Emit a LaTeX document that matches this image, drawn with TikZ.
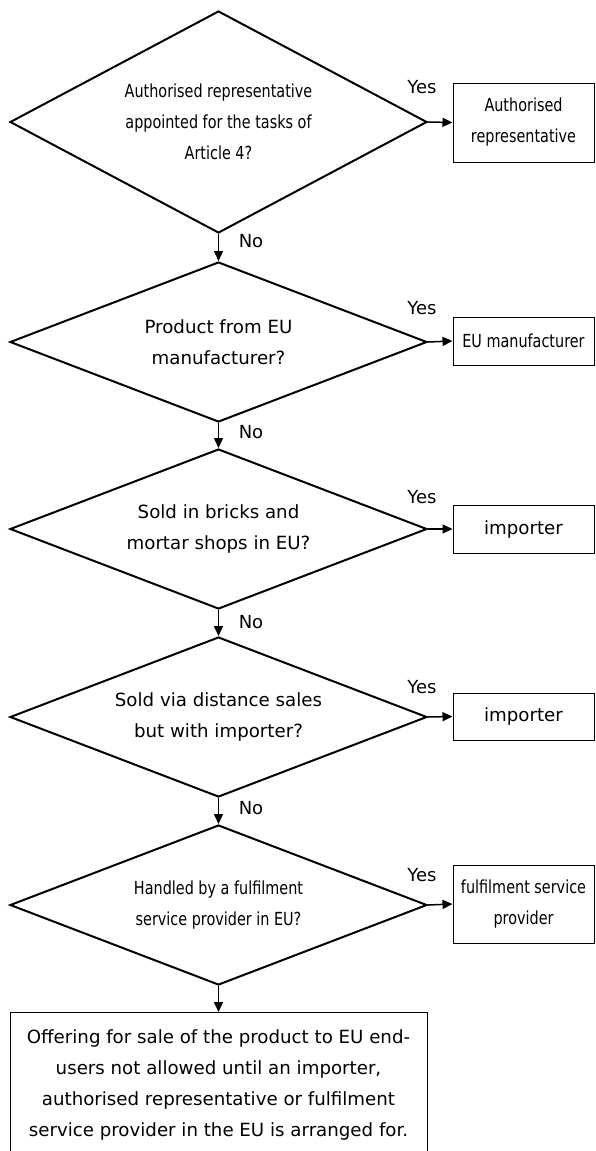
\documentclass[tikz,border=0pt]{standalone}
\usepackage{fontspec}
\setmainfont{DejaVu Sans}
\newfontfamily\narrowfont[FakeStretch=0.8]{DejaVu Sans}
\usetikzlibrary{shapes.geometric,arrows.meta}
\begin{document}
\begin{tikzpicture}[x=1pt,y=-1pt,
  dec/.style={diamond, draw, line width=2pt, inner sep=0pt, minimum width=417pt,
    minimum height=160pt, aspect=2.6, align=center},
  res/.style={rectangle, draw, line width=1pt, inner sep=0pt, minimum width=141pt, align=center},
  reg/.style={font=\fontsize{18.2}{31}\selectfont},
  nar/.style={font=\narrowfont\fontsize{18}{31}\selectfont},
  lbl/.style={inner sep=0pt, font=\fontsize{18}{22}\selectfont},
  conn/.style={line width=1.5pt, -{Triangle[length=10pt,width=9pt]}}
]
\useasboundingbox (0,0) rectangle (595,1151);
\fill[white] (0,0) rectangle (595,1151);
\clip (0,0) rectangle (595,1151);

% decisions
\node[dec, nar, minimum height=222pt, aspect=1.88] (d1) at (218.5,122)
  {Authorised representative\\appointed for the tasks of\\Article 4?};
\node[dec, reg] (d2) at (218.5,342) {Product from EU\\manufacturer?};
\node[dec, reg] (d3) at (218.5,529) {Sold in bricks and\\mortar shops in EU?};
\node[dec, reg] (d4) at (218.5,717) {Sold via distance sales\\but with importer?};
\node[dec, nar] (d5) at (218.5,905) {Handled by a fulfilment\\service provider in EU?};

% results
\node[res, nar, minimum height=79pt] (b1) at (523.5,122.5) {Authorised\\representative};
\node[res, nar, minimum height=48pt] (b2) at (523.5,341) {EU manufacturer};
\node[res, reg, minimum height=48pt] (b3) at (523.5,529) {importer};
\node[res, reg, minimum height=47pt] (b4) at (523.5,716.5) {importer};
\node[res, nar, minimum height=78pt] (b5) at (523.5,904) {fulfilment service\\provider};

\node[res, reg, anchor=north, minimum width=417pt, minimum height=144pt] (fin) at (218.5,1012)
  {Offering for sale of the product to EU end-\\users not allowed until an importer,\\authorised representative or fulfilment\\service provider in the EU is arranged for.};

% connectors
\draw[conn] (d1.south) -- (d2.north);
\draw[conn] (d2.south) -- (d3.north);
\draw[conn] (d3.south) -- (d4.north);
\draw[conn] (d4.south) -- (d5.north);
\draw[conn] (d5.south) -- (fin.north);
\draw[conn] (d1.east) -- (b1.west);
\draw[conn] (d2.east) -- (b2.west);
\draw[conn] (d3.east) -- (b3.west);
\draw[conn] (d4.east) -- (b4.west);
\draw[conn] (d5.east) -- (b5.west);

% labels
\node[lbl] (y1) at (422,87) {Yes};
\node[lbl] (y2) at (422,308) {Yes};
\node[lbl] (y3) at (422,497) {Yes};
\node[lbl] (y4) at (422,687) {Yes};
\node[lbl] (y5) at (422,875) {Yes};
\node[lbl] (n1) at (251,241) {No};
\node[lbl] (n2) at (251,432) {No};
\node[lbl] (n3) at (251,622) {No};
\node[lbl] (n4) at (251,808) {No};
\end{tikzpicture}
\end{document}
